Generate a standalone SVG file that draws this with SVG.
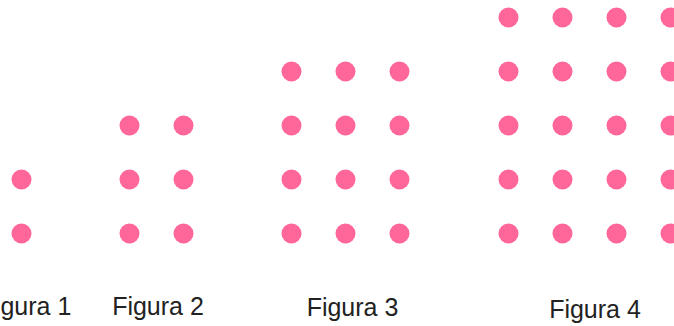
<svg xmlns="http://www.w3.org/2000/svg" width="674" height="326" viewBox="0 0 674 326">
<style>
.d{fill:#ff6699}
.t{font-family:"Liberation Sans",Arial,sans-serif;font-size:25px;fill:#222;text-anchor:middle}
</style>
<rect width="674" height="326" fill="#fff"/>
<g id="fig1">
<circle class="d" cx="21.5" cy="179.5" r="10"/>
<circle class="d" cx="21.5" cy="233.5" r="10"/>
<text class="t" x="25.5" y="315">Figura 1</text>
</g>
<g id="fig2">
<circle class="d" cx="129.5" cy="125.5" r="10"/>
<circle class="d" cx="183.5" cy="125.5" r="10"/>
<circle class="d" cx="129.5" cy="179.5" r="10"/>
<circle class="d" cx="183.5" cy="179.5" r="10"/>
<circle class="d" cx="129.5" cy="233.5" r="10"/>
<circle class="d" cx="183.5" cy="233.5" r="10"/>
<text class="t" x="158" y="315">Figura 2</text>
</g>
<g id="fig3">
<circle class="d" cx="291.5" cy="71.5" r="10"/>
<circle class="d" cx="345.5" cy="71.5" r="10"/>
<circle class="d" cx="399.5" cy="71.5" r="10"/>
<circle class="d" cx="291.5" cy="125.5" r="10"/>
<circle class="d" cx="345.5" cy="125.5" r="10"/>
<circle class="d" cx="399.5" cy="125.5" r="10"/>
<circle class="d" cx="291.5" cy="179.5" r="10"/>
<circle class="d" cx="345.5" cy="179.5" r="10"/>
<circle class="d" cx="399.5" cy="179.5" r="10"/>
<circle class="d" cx="291.5" cy="233.5" r="10"/>
<circle class="d" cx="345.5" cy="233.5" r="10"/>
<circle class="d" cx="399.5" cy="233.5" r="10"/>
<text class="t" x="352.5" y="316">Figura 3</text>
</g>
<g id="fig4">
<circle class="d" cx="508.5" cy="17.5" r="10"/>
<circle class="d" cx="562.5" cy="17.5" r="10"/>
<circle class="d" cx="616.5" cy="17.5" r="10"/>
<circle class="d" cx="670.5" cy="17.5" r="10"/>
<circle class="d" cx="508.5" cy="71.5" r="10"/>
<circle class="d" cx="562.5" cy="71.5" r="10"/>
<circle class="d" cx="616.5" cy="71.5" r="10"/>
<circle class="d" cx="670.5" cy="71.5" r="10"/>
<circle class="d" cx="508.5" cy="125.5" r="10"/>
<circle class="d" cx="562.5" cy="125.5" r="10"/>
<circle class="d" cx="616.5" cy="125.5" r="10"/>
<circle class="d" cx="670.5" cy="125.5" r="10"/>
<circle class="d" cx="508.5" cy="179.5" r="10"/>
<circle class="d" cx="562.5" cy="179.5" r="10"/>
<circle class="d" cx="616.5" cy="179.5" r="10"/>
<circle class="d" cx="670.5" cy="179.5" r="10"/>
<circle class="d" cx="508.5" cy="233.5" r="10"/>
<circle class="d" cx="562.5" cy="233.5" r="10"/>
<circle class="d" cx="616.5" cy="233.5" r="10"/>
<circle class="d" cx="670.5" cy="233.5" r="10"/>
<text class="t" x="595" y="318">Figura 4</text>
</g>
</svg>
